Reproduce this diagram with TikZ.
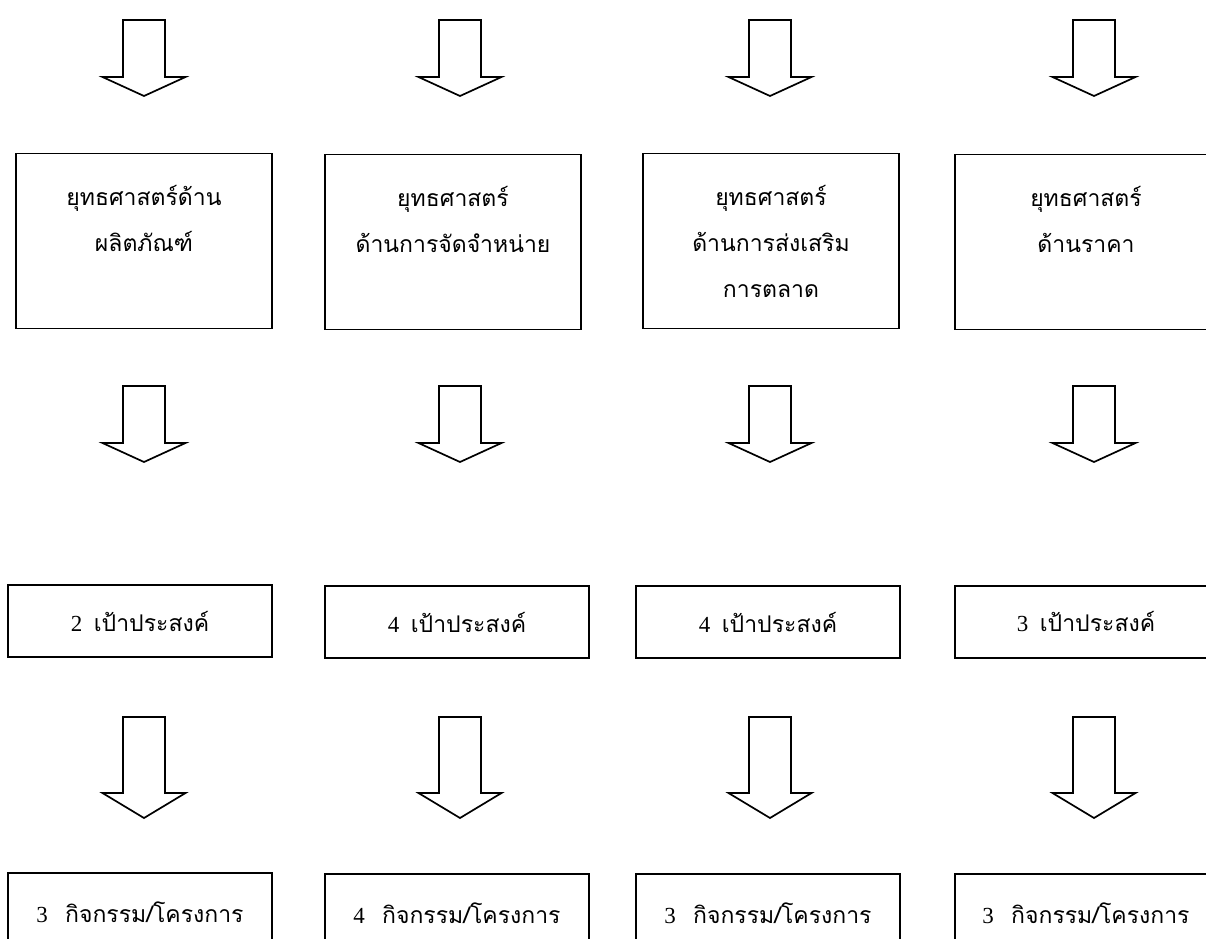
\documentclass[tikz,border=0pt]{standalone}
\usepackage{fontspec}
\setmainfont{Liberation Serif}
\newfontfamily\thaifont[Script=Thai]{Loma}
\tikzset{
	stratbox/.style={draw,line width=1.9pt,minimum width=256pt,minimum height=175pt,inner sep=0pt,align=center,font=\fontsize{23}{46}\selectfont\thaifont},
	goalbox/.style={draw,line width=1.9pt,minimum width=264pt,minimum height=72pt,inner sep=0pt,font=\fontsize{23}{28}\selectfont},
	projbox/.style={goalbox,minimum height=78pt},
	blockline/.style={line width=1.7pt,line join=miter}
}
\newcommand{\blockarrow}[4]{%
	\draw[blockline] (#1-21,#2) -- (#1+21,#2) -- (#1+21,#3) -- (#1+41.5,#3) -- (#1,#4) -- (#1-41.5,#3) -- (#1-21,#3) -- cycle;
}
\begin{document}
\begin{tikzpicture}[x=1pt,y=-1pt]
		\useasboundingbox (0,0) rectangle (1206,938);
		\clip (0,0) rectangle (1206,938);
		\fill[color=white] (0,0) rectangle (1206,938);
		\node[stratbox] (s1) at (144,241) {ยุทธศาสตร์ด้าน\\ผลิตภัณฑ์\\\mbox{}};
		\node[stratbox] (s2) at (453,242) {ยุทธศาสตร์\\ด้านการจัดจำหน่าย\\\mbox{}};
		\node[stratbox] (s3) at (771,241) {ยุทธศาสตร์\\ด้านการส่งเสริม\\การตลาด};
		\node[stratbox,minimum width=262pt] (s4) at (1086,242) {ยุทธศาสตร์\\ด้านราคา\\\mbox{}};
		\node[goalbox] (o1) at (140,621) {2\ \ {\thaifont เป้าประสงค์}};
		\node[goalbox] (o2) at (457,622) {4\ \ {\thaifont เป้าประสงค์}};
		\node[goalbox] (o3) at (768,622) {4\ \ {\thaifont เป้าประสงค์}};
		\node[goalbox,minimum width=262pt] (o4) at (1086,622) {3\ \ {\thaifont เป้าประสงค์}};
		\node[projbox] (p1) at (140,912) {3\ \ \ {\thaifont กิจกรรม/โครงการ}};
		\node[projbox] (p2) at (457,913) {4\ \ \ {\thaifont กิจกรรม/โครงการ}};
		\node[projbox] (p3) at (768,913) {3\ \ \ {\thaifont กิจกรรม/โครงการ}};
		\node[projbox,minimum width=262pt] (p4) at (1086,913) {3\ \ \ {\thaifont กิจกรรม/โครงการ}};
		\foreach \cx in {144,460,770,1094} {
			\blockarrow{\cx}{20}{77}{96}
			\blockarrow{\cx}{386}{443}{462}
			\blockarrow{\cx}{717}{793}{818}
		}
	\end{tikzpicture}
\end{document}
